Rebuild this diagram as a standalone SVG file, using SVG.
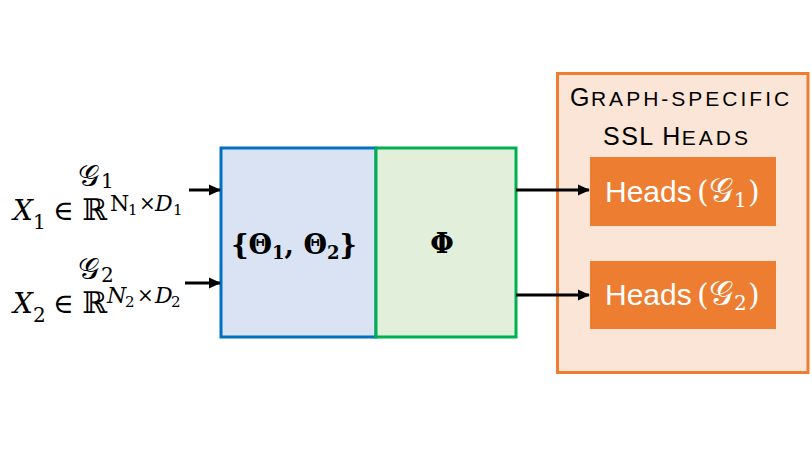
<svg xmlns="http://www.w3.org/2000/svg" width="812" height="459" viewBox="0 0 812 459">
<style>
.m{font-family:"DejaVu Serif","Liberation Serif",serif;fill:#000}
.i{font-style:italic}
.h{font-family:"Liberation Sans",Arial,sans-serif;fill:#fff;font-size:30px}
.hm{font-family:"DejaVu Serif","Liberation Serif",serif;fill:#fff}
.t{font-family:"Liberation Sans",Arial,sans-serif;fill:#000;font-size:25px;letter-spacing:1.5px}
.sc{font-size:21px;letter-spacing:3px}
.c{stroke:#000;stroke-width:3;fill:none;marker-end:url(#a)}
</style>
<defs>
<marker id="a" viewBox="0 0 10 10" refX="9" refY="5" markerWidth="4.2" markerHeight="3.8" orient="auto" markerUnits="strokeWidth" preserveAspectRatio="none">
<path d="M0,0 L10,5 L0,10 z" fill="#000"/>
</marker>
</defs>
<rect width="812" height="459" fill="#fff"/>
<g id="inputs">
<text class="m" font-size="30" x="78" y="186">𝒢</text>
<text class="m" font-size="20" x="101" y="188">1</text>
<text class="m i" font-size="28" x="13" y="220">X</text>
<text class="m" font-size="20" x="33" y="229">1</text>
<text class="m" font-size="28" x="53" y="220">∈</text>
<text class="m" font-size="30" x="82" y="220">ℝ</text>
<text class="m" font-size="22" x="110" y="211">N</text>
<text class="m" font-size="15" x="128" y="215">1</text>
<text class="m" font-size="20" x="139" y="210">×</text>
<text class="m i" font-size="22" x="155" y="211">D</text>
<text class="m" font-size="15" x="173" y="215">1</text>

<text class="m" font-size="30" x="78" y="279">𝒢</text>
<text class="m" font-size="20" x="101" y="282">2</text>
<text class="m i" font-size="28" x="13" y="313">X</text>
<text class="m" font-size="20" x="33" y="322">2</text>
<text class="m" font-size="28" x="53" y="313">∈</text>
<text class="m" font-size="30" x="82" y="313">ℝ</text>
<text class="m i" font-size="22" x="107" y="303">N</text>
<text class="m" font-size="15" x="125" y="307">2</text>
<text class="m" font-size="20" x="137" y="302">×</text>
<text class="m i" font-size="22" x="155" y="303">D</text>
<text class="m" font-size="15" x="171" y="307">2</text>
</g>
<g id="encoder">
<rect x="221" y="148" width="155" height="189" fill="#DAE3F3" stroke="#0070C0" stroke-width="3"/>
<text class="m" x="294" y="254" font-size="27" text-anchor="middle" font-weight="bold">{Θ<tspan font-size="18" dy="5">1</tspan><tspan dy="-5">, Θ</tspan><tspan font-size="18" dy="5">2</tspan><tspan dy="-5">}</tspan></text>
</g>
<g id="phi">
<rect x="376" y="148" width="140" height="189" fill="#E2EFDA" stroke="#00B050" stroke-width="3"/>
<text class="m" x="442" y="253" font-size="27" text-anchor="middle" font-weight="bold">Φ</text>
</g>
<g id="heads-group">
<rect x="557.5" y="73.5" width="250.5" height="299" fill="#FBE5D6" stroke="#ED7D31" stroke-width="3"/>
<text class="t" x="570" y="106">G<tspan class="sc">RAPH-SPECIFIC</tspan></text>
<text class="t" x="603" y="145">SSL H<tspan class="sc">EADS</tspan></text>
</g>
<g id="heads1">
<rect x="590" y="157" width="186" height="69" fill="#ED7D31"/>
<text class="h" x="605" y="202">Heads</text>
<text class="hm" font-size="30" x="697" y="202">(</text>
<text class="hm" font-size="34" x="709" y="202">𝒢</text>
<text class="hm" font-size="20" x="734" y="207">1</text>
<text class="hm" font-size="30" x="748" y="202">)</text>
</g>
<g id="heads2">
<rect x="590" y="261" width="186" height="68" fill="#ED7D31"/>
<text class="h" x="605" y="305">Heads</text>
<text class="hm" font-size="30" x="697" y="305">(</text>
<text class="hm" font-size="34" x="709" y="305">𝒢</text>
<text class="hm" font-size="20" x="734" y="310">2</text>
<text class="hm" font-size="30" x="748" y="305">)</text>
</g>
<g id="connectors">
<line class="c" x1="189" y1="190" x2="220" y2="190"/>
<line class="c" x1="185" y1="283" x2="220" y2="283"/>
<line class="c" x1="516" y1="190" x2="589" y2="190"/>
<line class="c" x1="516" y1="295" x2="589" y2="295"/>
</g>
</svg>
